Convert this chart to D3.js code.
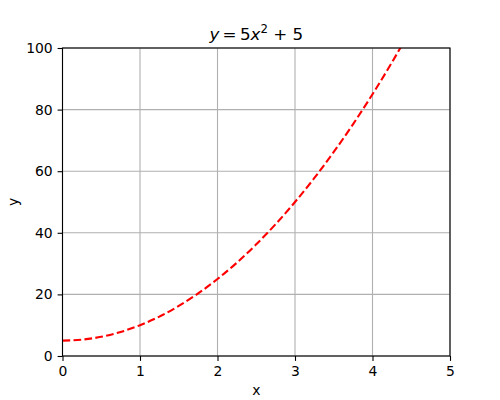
<!DOCTYPE html>
<html>
<head>
<meta charset="utf-8">
<script src="https://cdn.jsdelivr.net/npm/d3@7"></script>
<style>
  body { margin: 0; background: #fff; }
  text { font-family: "DejaVu Sans", sans-serif; fill: #000; }
</style>
</head>
<body>
<div id="chart"></div>
<script>
// values
var xs = [0, 0.25, 0.5, 0.75, 1, 1.25, 1.5, 1.75, 2, 2.25, 2.5, 2.75, 3, 3.25, 3.5, 3.75, 4, 4.25, 4.5];
var ys = [5, 5.3, 6.25, 7.8, 10, 12.8, 16.25, 20.3, 25, 30.3, 36.25, 42.8, 50, 57.8, 66.25, 75.3, 85, 95.3, 106.25];
var xTicks = [0, 1, 2, 3, 4, 5];
var yTicks = [0, 20, 40, 60, 80, 100];

var width = 500, height = 400;
var margin = {top: 48, right: 50, bottom: 44, left: 62.5};

var svg = d3.select('#chart').append('svg')
  .attr('width', width)
  .attr('height', height);

var x = d3.scaleLinear().domain([0, 5]).range([margin.left, width - margin.right]);
var y = d3.scaleLinear().domain([0, 100]).range([height - margin.bottom, margin.top]);

svg.append('clipPath').attr('id', 'clip')
  .append('rect')
  .attr('x', margin.left).attr('y', margin.top)
  .attr('width', x(5) - x(0)).attr('height', y(0) - y(100));

// grid
var grid = svg.append('g').attr('stroke', '#b0b0b0').attr('stroke-width', 1.1);
grid.selectAll('.gx').data(xTicks).enter().append('line')
  .attr('x1', function(d){ return x(d); }).attr('x2', function(d){ return x(d); })
  .attr('y1', y(0)).attr('y2', y(100));
grid.selectAll('.gy').data(yTicks).enter().append('line')
  .attr('x1', x(0)).attr('x2', x(5))
  .attr('y1', function(d){ return y(d); }).attr('y2', function(d){ return y(d); });

// curve
var line = d3.line()
  .x(function(d){ return x(d[0]); })
  .y(function(d){ return y(d[1]); })
  .curve(d3.curveMonotoneX);

svg.append('path')
  .datum(d3.zip(xs, ys))
  .attr('clip-path', 'url(#clip)')
  .attr('fill', 'none')
  .attr('stroke', 'red')
  .attr('stroke-width', 2.1)
  .attr('stroke-dasharray', '7.7,3.3')
  .attr('d', line);

// axes
var xAxis = d3.axisBottom(x).tickValues(xTicks).tickSize(4.9).tickPadding(4.9).tickFormat(d3.format('d'));
var yAxis = d3.axisLeft(y).tickValues(yTicks).tickSize(4.9).tickPadding(4.9).tickFormat(d3.format('d'));

var gx = svg.append('g').attr('transform', 'translate(0,' + y(0) + ')').call(xAxis);
var gy = svg.append('g').attr('transform', 'translate(' + x(0) + ',0)').call(yAxis);
[gx, gy].forEach(function(g){
  g.select('.domain').remove();
  g.selectAll('line').attr('stroke', '#000').attr('stroke-width', 1.1);
  g.selectAll('text').attr('font-size', '13.9px').attr('fill', '#000')
    .style('font-family', '"DejaVu Sans", sans-serif');
});

// frame
svg.append('rect')
  .attr('x', x(0)).attr('y', y(100))
  .attr('width', x(5) - x(0)).attr('height', y(0) - y(100))
  .attr('fill', 'none').attr('stroke', '#000').attr('stroke-width', 1.1);

// labels
svg.append('text')
  .attr('x', (x(0) + x(5)) / 2).attr('y', 395)
  .attr('text-anchor', 'middle').attr('font-size', '13.9px')
  .text('x');

svg.append('text')
  .attr('transform', 'translate(18,' + ((y(0) + y(100)) / 2) + ') rotate(-90)')
  .attr('text-anchor', 'middle').attr('font-size', '13.9px')
  .text('y');

// title
var title = svg.append('text')
  .attr('x', (x(0) + x(5)) / 2).attr('y', 40)
  .attr('text-anchor', 'middle').attr('font-size', '16.7px');
title.append('tspan').attr('font-style', 'italic').text('y');
title.append('tspan').text('\u2009=\u20095');
title.append('tspan').attr('font-style', 'italic').text('x');
title.append('tspan').attr('font-size', '11.7px').attr('dy', -7).text('2');
title.append('tspan').attr('dy', 7).text(' + 5');
</script>
</body>
</html>
